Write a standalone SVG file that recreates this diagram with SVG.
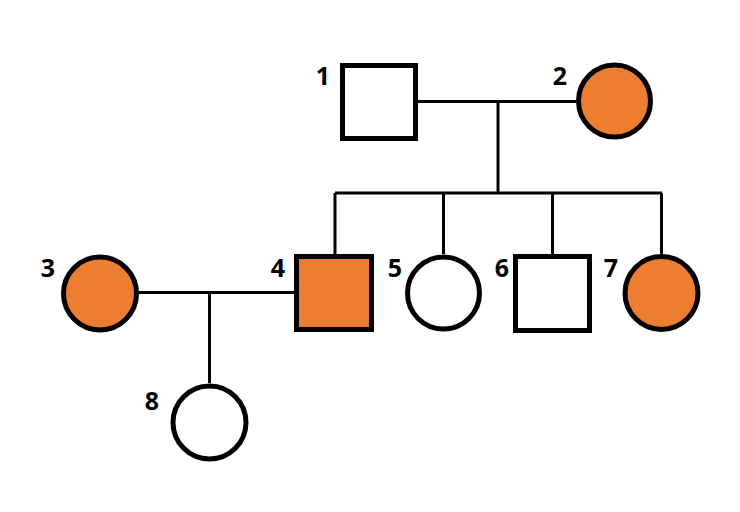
<svg xmlns="http://www.w3.org/2000/svg" width="740" height="512" viewBox="0 0 740 512">
<style>
.n{stroke:#000;stroke-width:5;fill:#fff}
.a{fill:#ED7D31}
.l{stroke:#000;stroke-width:3;fill:none}
text{font-family:"Open Sans","Liberation Sans",Arial,sans-serif;font-weight:bold;font-size:25px;fill:#000;text-anchor:end}
</style>
<rect width="740" height="512" fill="#fff"/>
<g id="connectors">
<line class="l" x1="418" y1="101.5" x2="576" y2="101.5"/>
<line class="l" x1="498" y1="101.5" x2="498" y2="193"/>
<line class="l" x1="335" y1="193" x2="662" y2="193"/>
<line class="l" x1="335" y1="193" x2="335" y2="254"/>
<line class="l" x1="443.5" y1="193" x2="443.5" y2="254"/>
<line class="l" x1="552.5" y1="193" x2="552.5" y2="254"/>
<line class="l" x1="661.5" y1="193" x2="661.5" y2="254"/>
<line class="l" x1="139" y1="292.5" x2="294" y2="292.5"/>
<line class="l" x1="209.5" y1="292.5" x2="209.5" y2="383"/>
</g>
<g id="n1"><rect class="n" x="342.5" y="65.5" width="73" height="73"/><text x="330" y="85">1</text></g>
<g id="n2"><circle class="n a" cx="614.5" cy="101" r="36"/><text x="567" y="85">2</text></g>
<g id="n3"><circle class="n a" cx="100" cy="293.5" r="36.5"/><text x="55" y="277">3</text></g>
<g id="n4"><rect class="n a" x="296.5" y="256.5" width="75" height="73"/><text x="285" y="277">4</text></g>
<g id="n5"><circle class="n" cx="443.5" cy="293" r="36"/><text x="402" y="277">5</text></g>
<g id="n6"><rect class="n" x="515.5" y="256.5" width="74" height="74"/><text x="509" y="277">6</text></g>
<g id="n7"><circle class="n a" cx="661.5" cy="293" r="36.5"/><text x="618" y="277">7</text></g>
<g id="n8"><circle class="n" cx="209.5" cy="422.5" r="36.5"/><text x="159" y="410">8</text></g>
</svg>
